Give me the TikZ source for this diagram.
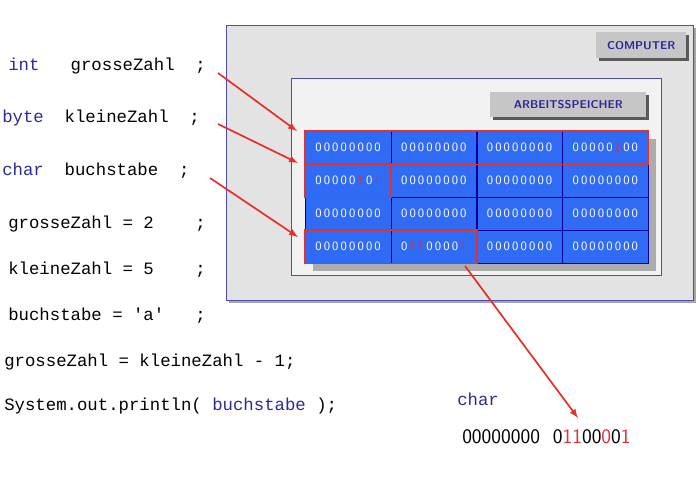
\documentclass[tikz,border=0pt]{standalone}
\usepackage{fontspec}
\setmainfont{Liberation Sans}
\setmonofont{Liberation Mono}
\begin{document}
\begin{tikzpicture}[x=0.75pt,y=-0.75pt,
  code/.style={anchor=west,font=\ttfamily\fontsize{13}{15}\selectfont,inner sep=0},
  cell/.style={draw=blue!60!black,line width=0.4pt,fill=cellblue,minimum width=64.2pt,minimum height=24.75pt,inner sep=0},
  ctext/.style={font=\sffamily\fontsize{9.5}{11}\selectfont,text=white},
  lbl/.style={fill=gray!45,font=\sffamily\bfseries\fontsize{8.5}{10}\selectfont,text=kw,inner sep=0},
  red/.style={draw=arrred,line width=1.2pt},
  arr/.style={draw=arrred,line width=1.3pt,-latex}]
\definecolor{kw}{HTML}{2A2A9A}
\definecolor{cellblue}{HTML}{2F6BF5}
\definecolor{arrred}{HTML}{E8302A}
\definecolor{rd}{HTML}{E0303A}
\useasboundingbox (0,0) rectangle (700,487);
% computer
\fill[gray!70] (229,28) rectangle (696,303);
\node[draw=blue!40!gray,fill=gray!22,minimum width=350.25pt,minimum height=206.25pt,anchor=north west,inner sep=0] (comp) at (226,25) {};
\fill[gray!70!black] (599,35) rectangle (689,61);
\node[lbl,minimum width=67.5pt,minimum height=19.5pt,anchor=north west] (cl) at (596,32) {COMPUTER};
\node[draw=blue!40!gray,fill=gray!10,minimum width=277.5pt,minimum height=147.75pt,anchor=north west,inner sep=0] (mem) at (291,78) {};
\fill[gray!70!black] (493,95) rectangle (649,120);
\node[lbl,minimum width=117pt,minimum height=18.75pt,anchor=north west] (ml) at (490,92) {ARBEITSSPEICHER};
\fill[gray!65] (313,139) rectangle (656,271);
\newcommand{\rr}[1]{\textcolor{rd}{#1}}
\foreach \r in {0,...,3}{\foreach \c in {0,...,3}{
 \node[cell,anchor=north west] (c\r\c) at ({305+85.75*\c},{131+33*\r}) {};}}
\foreach \r in {0,...,3}{\foreach \c in {0,...,3}{
 \ifnum\r\c=03\else\ifnum\r\c=10\else\ifnum\r\c=31\else
 \node[ctext] at (c\r\c) {0\,0\,0\,0\,0\,0\,0\,0};
 \fi\fi\fi}}
\node[ctext] at (c03) {0\,0\,0\,0\,0\,\rr{1}\,0\,0};
\node[ctext] at (c10) {0\,0\,0\,0\,0\,\rr{1}\,0\,\rr{1}};
\node[ctext] at (c31) {0\,\rr{1}\,\rr{1}\,0\,0\,0\,0\,\rr{1}};
\draw[red] (c00.north west) rectangle (c03.south east);
\draw[red] (c10.north west) rectangle (c10.south east);
\draw[red] (c30.north west) rectangle (c31.south east);
% code
\node[code] (l1) at (8,66) {\textcolor{kw}{int}\ \ \ grosseZahl\ \ ;};
\node[code] (l2) at (2,118) {\textcolor{kw}{byte}\ \ kleineZahl\ \ ;};
\node[code] (l3) at (2,171) {\textcolor{kw}{char}\ \ buchstabe\ \ ;};
\node[code] (l4) at (8,224) {grosseZahl = 2\ \ \ \ ;};
\node[code] (l5) at (8,270) {kleineZahl = 5\ \ \ \ ;};
\node[code] (l6) at (8,316) {buchstabe = 'a'\ \ \ ;};
\node[code] (l7) at (4,362) {grosseZahl = kleineZahl - 1;};
\node[code] (l8) at (4,406) {System.out.println( \textcolor{kw}{buchstabe} );};
\node[code] (ch) at (457,399) {\textcolor{kw}{char}};
\node[anchor=west,inner sep=0,font=\sffamily\fontsize{15.5}{17}\selectfont] (bin) at (462,437) {00000000\ \ 0\textcolor{rd}{11}00\textcolor{rd}{0}0\textcolor{rd}{1}};
\coordinate (a1) at (218,73); \coordinate (a2) at (218,124); \coordinate (a3) at (210,178);
\coordinate (t1) at (297,131); \coordinate (t2) at (298,163); \coordinate (t3) at (298,237);
\coordinate (s4) at (465,266); \coordinate (t4) at (578,418);
\draw[arr] (a1) -- (t1);
\draw[arr] (a2) -- (t2);
\draw[arr] (a3) -- (t3);
\draw[arr] (s4) -- (t4);
\end{tikzpicture}
\end{document}
